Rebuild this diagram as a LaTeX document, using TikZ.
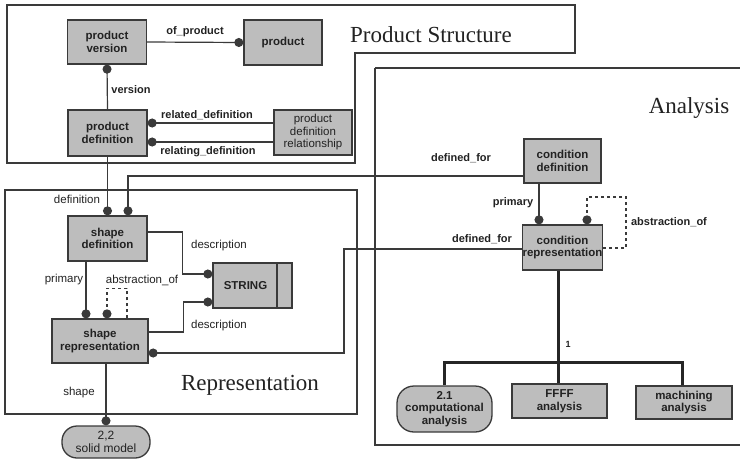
\documentclass[tikz,border=0pt]{standalone}
\usepackage{fontspec}
\setmainfont{Liberation Serif}
\setsansfont{Liberation Sans}
\usetikzlibrary{arrows.meta,calc}
\definecolor{boxfill}{HTML}{BDBDBD}
\definecolor{lc}{HTML}{3A3A3A}
\definecolor{tc}{HTML}{222222}
\tikzset{
  ent/.style={draw=lc, fill=boxfill, line width=1.3pt, text=tc, align=center, inner sep=1pt,
    font=\sffamily\bfseries\fontsize{11.5}{12.5}\selectfont},
  frame/.style={draw=lc, line width=1.3pt},
  conn/.style={draw=lc, line width=1.2pt},
  dotend/.style={conn, -{Circle[length=9pt,width=9pt]}},
  bus/.style={draw=black!85, line width=3pt},
  lbl/.style={text=tc, inner sep=0pt, font=\sffamily\bfseries\fontsize{11}{12}\selectfont},
  lblr/.style={text=tc, inner sep=0pt, font=\sffamily\fontsize{11.5}{12}\selectfont},
  ttl/.style={text=tc, inner sep=0pt, font=\rmfamily\fontsize{23}{25}\selectfont},
}
\begin{document}
\begin{tikzpicture}[x=1pt,y=-1pt]
\useasboundingbox (0,0) rectangle (740,459);
% frames
\draw[frame] (7,5) -- (575,5) -- (575,53) -- (355,53) -- (355,163) -- (7,163) -- cycle;
\draw[frame] (5,190) rectangle (357,414);
\draw[frame] (375,68) -- (750,68) (375,68) -- (375,445) -- (750,445);
% titles
\node[ttl] (tps) at (431,35) {Product Structure};
\node[ttl] (tan) at (689,108) {Analysis};
\node[ttl] (tre) at (250,385) {Representation};
% entities
\node[ent, minimum width=79, minimum height=44] (pv) at (107,42) {product\\version};
\node[ent, minimum width=78, minimum height=45] (prod) at (283,42.5) {product};
\node[ent, minimum width=79, minimum height=46] (pd) at (107.5,133) {product\\definition};
\node[ent, minimum width=78, minimum height=45, inner sep=0pt, font=\sffamily\fontsize{11.5}{12.5}\selectfont] (pdr) at (313,132.5) {product\\definition\\relationship};
\node[ent, minimum width=79, minimum height=45] (sd) at (107.5,238.5) {shape\\definition};
\node[ent, minimum width=79, minimum height=45] (str) at (252.5,285.5) {\hspace*{-14pt}STRING};
\draw[conn] (str.north -| 277,0) -- (str.south -| 277,0);
\node[ent, minimum width=96, minimum height=44] (sr) at (100,341) {shape\\representation};
\node[ent, minimum width=88, minimum height=32, rounded corners=15, inner sep=0pt, font=\sffamily\fontsize{12}{12.5}\selectfont] (sm) at (106,442) {2,2\\solid model};
\node[ent, minimum width=77, minimum height=44] (cd) at (562.5,161) {condition\\definition};
\node[ent, minimum width=79, minimum height=45, inner sep=0pt] (cr) at (562.5,247.5) {condition\\representation};
\node[ent, minimum width=95, minimum height=46, rounded corners=17, inner sep=0pt] (ca) at (444.5,409) {2.1\\computational\\analysis};
\node[ent, minimum width=95, minimum height=34] (ff) at (559.5,401) {FFFF\\analysis};
\node[ent, minimum width=96, minimum height=33] (ma) at (684,402.5) {machining\\analysis};
% connectors: product structure
\draw[dotend] (pv.east) -- (prod.west);
\draw[dotend] (pd.north) -- (pv.south);
\draw[dotend] (pdr.west |- 0,123) -- (pd.east |- 0,123);
\draw[dotend] (pdr.west |- 0,142) -- (pd.east |- 0,142);
% representation
\draw[dotend] (pd.south) -- (sd.north);
\draw[dotend] (cd.west |- 0,176) -| (sd.north -| 128,0);
\draw[dotend] (sd.east |- 0,232) -- ++(35,0) |- (str.west |- 0,274);
\draw[dotend] (sr.east |- 0,332) -- ++(35,0) |- (str.west |- 0,302);
\draw[dotend] (sd.south -| 86,0) -- (sr.north -| 86,0);
\draw[dotend, dashed] (sr.north -| 127,0) -- ++(0,-30) -| (sr.north -| 107,0);
\draw[dotend] (sr.south -| 106,0) -- (sm.north);
\draw[dotend] (cr.west |- 0,249) -- ++(-178,0) |- (sr.east |- 0,353);
% analysis
\draw[dotend] (cd.south -| 539,0) -- (cr.north -| 539,0);
\draw[dotend, dashed] (cr.east |- 0,248) -- ++(23,0) -- ++(0,-51) -| (cr.north -| 587,0);
\coordinate (bus) at (558,362);
\draw[bus] (cr.south -| bus) -- (bus);
\draw[bus] (ca.north -| 444,0) |- (bus) -| (ma.north -| 682,0);
\draw[bus] (bus) -- (ff.north -| bus);
% labels
\node[lbl] (l1) at (195,32) {of\_product};
\node[lbl] (l2) at (131,90) {version};
\node[lbl] (l3) at (207,115) {related\_definition};
\node[lbl] (l4) at (208,152) {relating\_definition};
\node[lblr] (l5) at (77,199) {definition};
\node[lbl] (l6) at (461,158) {defined\_for};
\node[lblr] (l7) at (219,246) {description};
\node[lblr] (l8) at (64,280) {primary};
\node[lblr] (l9) at (142,280) {abstraction\_of};
\node[lblr] (l10) at (219,326) {description};
\node[lblr] (l11) at (79,393) {shape};
\node[lbl] (l12) at (482,239) {defined\_for};
\node[lbl] (l13) at (513,203) {primary};
\node[lbl] (l14) at (669,222) {abstraction\_of};
\node[lbl, font=\sffamily\bfseries\fontsize{9}{9}\selectfont] (l15) at (568,344) {1};
\end{tikzpicture}
\end{document}
